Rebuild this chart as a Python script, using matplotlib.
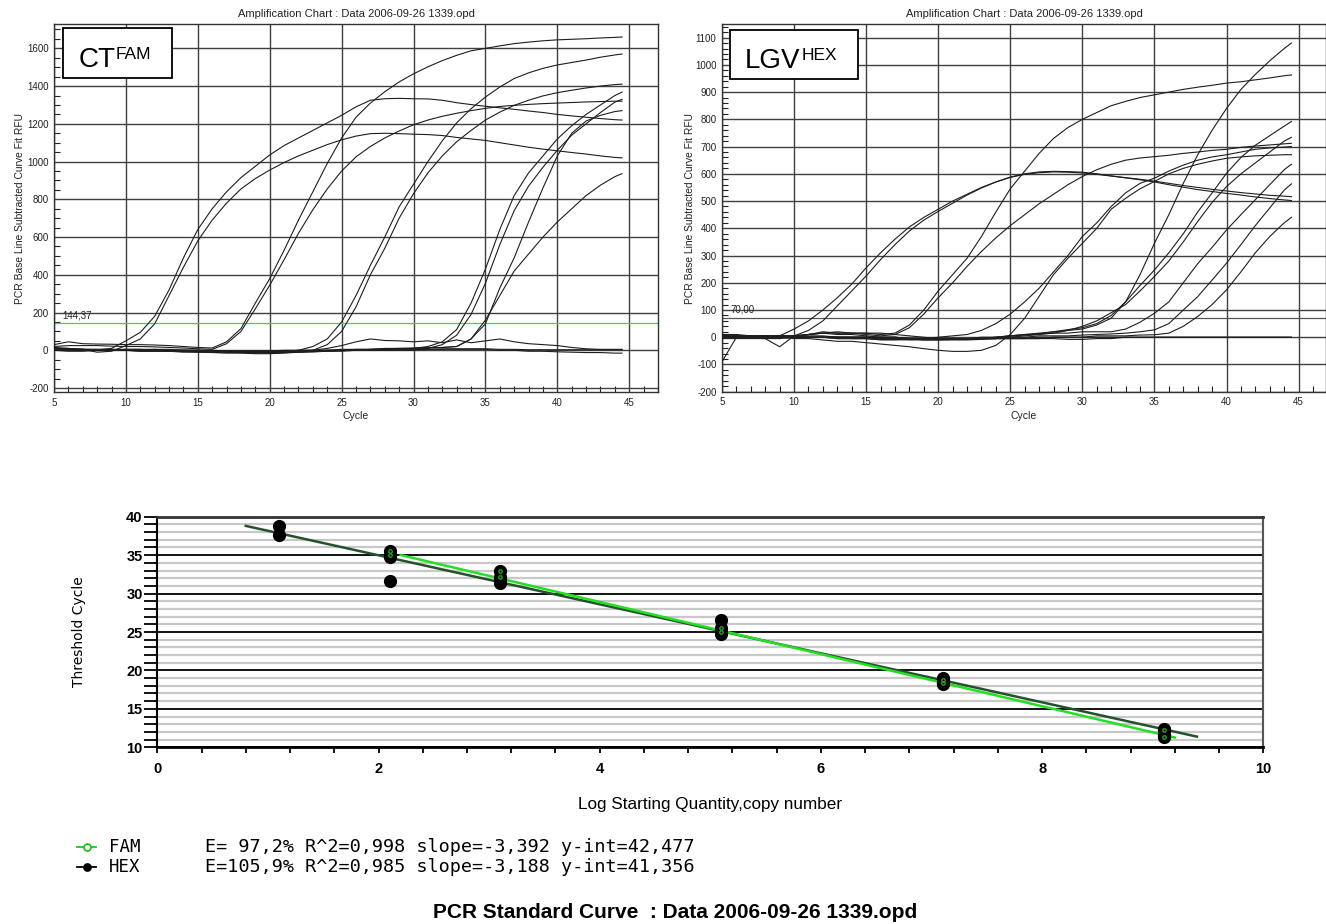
import matplotlib
matplotlib.use('Agg')
import matplotlib.pyplot as plt
from matplotlib.ticker import MultipleLocator
from matplotlib.patches import Rectangle
from matplotlib.lines import Line2D

plt.rcParams['font.family'] = ['Liberation Sans', 'DejaVu Sans']
plt.rcParams['axes.unicode_minus'] = False

# ---- amplification data (RFU per cycle) ----
cycles = list(range(5, 45)) + [44.5]

fam_curves = [
    [10, 8, 5, 3, 10, 50, 95, 180, 320, 490,
     640, 750, 840, 915, 975, 1035, 1085, 1125, 1165, 1205,
     1245, 1290, 1325, 1333, 1335, 1333, 1332, 1325, 1312, 1302,
     1293, 1285, 1277, 1268, 1260, 1250, 1242, 1235, 1228, 1222, 1220],
    [15, 10, 5, -10, -5, 25, 60, 140, 290, 440,
     580, 690, 780, 855, 910, 955, 995, 1030, 1060, 1090,
     1115, 1135, 1148, 1150, 1148, 1145, 1143, 1138, 1128, 1120,
     1112, 1100, 1088, 1076, 1066, 1057, 1048, 1040, 1030, 1022, 1020],
    [30, 45, 35, 33, 32, 30, 30, 28, 25, 20,
     15, 12, 45, 115, 250, 380, 530, 690, 840, 990,
     1125, 1235, 1310, 1370, 1422, 1465, 1502, 1535, 1563, 1587,
     1600, 1613, 1625, 1633, 1640, 1645, 1648, 1651, 1655, 1658, 1660],
    [20, 25, 25, 25, 22, 20, 20, 18, 15, 12,
     8, 5, 35, 100, 220, 345, 480, 620, 745, 855,
     950, 1025, 1080, 1125, 1162, 1195, 1220, 1240, 1256, 1270,
     1282, 1292, 1298, 1303, 1307, 1310, 1313, 1316, 1318, 1320, 1320],
    [5, 0, 0, 0, 5, 5, 0, 0, -5, -5,
     -5, -10, -10, -12, -15, -15, -12, 0, 20, 60,
     150, 290, 450, 600, 760, 880, 1000, 1110, 1205, 1280,
     1342, 1395, 1440, 1470, 1494, 1512, 1525, 1538, 1553, 1565, 1570],
    [0, 5, 5, 0, 0, 0, -5, -5, -5, -10,
     -10, -12, -15, -15, -18, -18, -15, -10, 0, 30,
     100, 230, 400, 540, 700, 830, 940, 1030, 1105, 1165,
     1220, 1262, 1298, 1325, 1348, 1365, 1378, 1390, 1400, 1408, 1410],
    [0, 0, 5, 5, 0, 0, 0, 5, 5, 0,
     -5, -5, -8, -10, -10, -12, -12, -10, -8, -5,
     0, 0, 5, 5, 8, 10, 20, 45, 110, 250,
     430, 640, 820, 940, 1030, 1120, 1190, 1250, 1300, 1350, 1368],
    [5, 5, 0, 0, 0, 5, 5, 0, 0, 0,
     0, -5, -5, -8, -8, -10, -10, -8, -5, -5,
     0, 0, 0, 5, 5, 8, 10, 30, 80, 190,
     355, 560, 740, 870, 970, 1060, 1140, 1200, 1260, 1315, 1330],
    [0, -5, -5, 0, 0, 0, 0, 0, -5, -5,
     -5, -10, -10, -12, -10, -10, -8, -5, -5, 0,
     0, 5, 5, 8, 10, 10, 12, 15, 20, 60,
     140, 330, 490, 680, 860, 1030, 1150, 1215, 1245, 1265, 1270],
    [10, 10, 5, 5, 5, 0, 0, 0, 0, -5,
     -5, -5, -5, -8, -8, -8, -5, -5, 0, 0,
     5, 5, 5, 10, 10, 12, 15, 15, 20, 60,
     160, 290, 420, 510, 600, 680, 750, 820, 875, 920, 936],
    [5, 5, 0, 0, 0, 5, 5, 5, 0, 0,
     0, -5, -5, -5, -5, -5, -5, 0, 0, 10,
     25, 45, 60, 52, 50, 45, 50, 40, 55, 40,
     50, 60, 45, 35, 30, 25, 15, 8, 5, 5, 5],
    [10, 5, 5, 0, 0, 0, -5, -5, -5, -5,
     -10, -10, -10, -12, -12, -10, -10, -10, -8, -5,
     -5, 0, 0, 0, 0, 0, 5, 5, 5, 5,
     5, 0, 0, -5, -5, -8, -10, -12, -12, -15, -15],
    [0, 0, 0, 0, 0, 0, 0, 0, 0, 0,
     0, 0, -3, -3, -3, -3, 0, 0, 0, 0,
     0, 3, 3, 3, 5, 5, 5, 8, 8, 8,
     8, 5, 5, 3, 3, 3, 3, 3, 3, 3, 3],
]

hex_curves = [
    [0, 5, 5, 0, 5, 30, 60, 100, 145, 195,
     255, 310, 360, 405, 440, 470, 500, 525, 550, 570,
     587, 598, 604, 607, 606, 603, 598, 592, 586, 580,
     573, 565, 557, 550, 543, 537, 531, 526, 521, 518, 516],
    [5, 0, 0, 5, 0, 5, 25, 60, 115, 170,
     225, 285, 340, 390, 430, 462, 492, 522, 548, 570,
     588, 600, 607, 609, 608, 606, 600, 592, 585, 578,
     570, 560, 551, 542, 535, 528, 522, 515, 509, 504, 502],
    [5, 5, 0, 0, 5, 5, 10, 15, 20, 15,
     15, 10, 15, 45, 100, 170, 230, 290, 370, 460,
     545, 610, 675, 730, 770, 800, 825, 850, 866, 880,
     890, 900, 910, 918, 925, 933, 938, 945, 952, 960, 963],
    [0, 0, 5, 5, 0, 0, 10, 20, 15, 15,
     10, 5, 10, 35, 85, 145, 200, 260, 315, 365,
     410, 450, 490, 525, 560, 590, 615, 635, 650, 658,
     663, 668, 675, 680, 686, 690, 697, 702, 706, 710, 712],
    [0, 0, 0, 5, 5, 0, 0, 0, -5, -5,
     -5, -10, -10, -8, -5, 0, 5, 10, 25, 50,
     85, 130, 180, 240, 300, 370, 420, 480, 530, 565,
     584, 610, 632, 650, 662, 670, 680, 690, 695, 698, 700],
    [5, 5, 0, 0, 0, -5, -5, -10, -15, -15,
     -20, -25, -30, -35, -42, -48, -52, -52, -48, -30,
     10, 70, 150, 230, 290, 345, 400, 470, 510, 545,
     572, 600, 620, 635, 647, 657, 662, 666, 668, 670, 670],
    [5, 5, 0, 0, 0, 5, 5, 5, 0, 0,
     0, -5, -5, -5, -8, -8, -8, -5, -5, 0,
     5, 10, 15, 20, 25, 30, 45, 70, 130, 230,
     345, 450, 565, 670, 760, 840, 910, 965, 1015, 1060, 1080],
    [0, 0, 0, 0, 5, 5, 0, 0, 0, -5,
     -5, -5, -5, -8, -8, -8, -5, -5, 0, 0,
     5, 8, 12, 20, 28, 35, 50, 80, 130, 190,
     247, 310, 380, 460, 530, 602, 660, 705, 740, 775, 792],
    [0, 5, 5, 0, 0, 0, 0, 0, -5, -5,
     -5, -8, -8, -10, -10, -10, -8, -8, -5, -5,
     0, 5, 10, 15, 25, 40, 60, 90, 120, 170,
     223, 280, 350, 425, 495, 553, 600, 640, 680, 720, 734],
    [10, 10, 5, 5, 5, 5, 10, 15, 15, 15,
     15, 15, 10, 5, 0, -5, -5, -5, -5, 0,
     5, 10, 12, 15, 15, 20, 20, 20, 30, 55,
     88, 130, 200, 270, 330, 394, 450, 505, 560, 615, 635],
    [0, 0, 0, 0, 0, 0, 0, 0, 0, 0,
     0, 0, 0, -5, -5, -5, -5, -5, -5, -5,
     0, 0, 5, 5, 5, 8, 10, 12, 15, 20,
     27, 50, 100, 149, 210, 272, 340, 410, 475, 540, 563],
    [0, 0, 0, -5, -5, 0, 0, 0, 0, 0,
     0, -5, -5, -5, -8, -8, -8, -8, -5, -5,
     -5, -5, 0, 0, 0, 0, 5, 5, 5, 8,
     9, 15, 40, 76, 120, 174, 240, 310, 370, 420, 440],
    [-90, 0, 5, 5, 5, 0, 0, 0, 0, 0,
     0, 0, 0, -5, -5, -5, -5, -5, -5, -5,
     -5, -5, -5, 0, 0, 0, 0, 0, 0, 0,
     0, 0, 0, 0, 0, 0, 0, 0, 0, 0, 0],
    [-5, -5, -5, -5, -35, 5, 10, 15, 10, 10,
     5, 0, 0, -5, -10, -10, -10, -10, -8, -5,
     -5, -5, -5, -5, -8, -8, -5, -5, 0, 0,
     0, 0, 0, 0, 0, 0, 0, 0, 0, 0, 0],
]

fam_threshold = 144.37
hex_threshold = 70.00

# ---- standard curve data ----
fam_log_qty = [2.1, 2.1, 3.1, 3.1, 5.1, 5.1, 7.1, 7.1, 9.1, 9.1]
fam_ct = [35.6, 35.0, 32.9, 32.1, 25.5, 25.0, 18.8, 18.4, 12.2, 11.3]
hex_log_qty = [1.1, 1.1, 2.1, 2.1, 3.1, 3.1, 5.1, 5.1, 7.1, 7.1, 9.1, 9.1]
hex_ct = [38.8, 37.6, 34.8, 31.6, 31.4, 31.8, 26.6, 24.8, 19.0, 18.2, 12.4, 11.6]

fam_eff, fam_r2, fam_slope, fam_yint = 97.2, 0.998, -3.392, 42.477
hex_eff, hex_r2, hex_slope, hex_yint = 105.9, 0.985, -3.188, 41.356
fam_fit_x = [2.2, 9.2]
hex_fit_x = [0.8, 9.4]

W, H = 1326, 924
fig = plt.figure(figsize=(W / 100, H / 100), dpi=100)
fig.patch.set_facecolor('white')

chart_title = 'Amplification Chart : Data 2006-09-26 1339.opd'
rfu_label = 'PCR Base Line Subtracted Curve Fit RFU'


def amp_panel(rect, curves, ylim, xmax, ymajor, yminor, thr, thr_color,
              thr_text, thr_text_y, box, tag, sup):
    ax = fig.add_axes(rect)
    for vals in curves:
        ax.plot(cycles, vals, color='#1e1e1e', lw=0.8, zorder=3)
    ax.axhline(thr, color=thr_color, lw=0.9, zorder=2)
    ax.text(5.6, thr_text_y, thr_text, fontsize=7, color='#222',
            va='bottom', zorder=4)
    ax.set_xlim(5, xmax)
    ax.set_ylim(*ylim)
    ax.xaxis.set_major_locator(MultipleLocator(5))
    ax.xaxis.set_minor_locator(MultipleLocator(1))
    ax.yaxis.set_major_locator(MultipleLocator(ymajor))
    ax.yaxis.set_minor_locator(MultipleLocator(yminor))
    ax.grid(which='major', color='#404040', lw=1.0, zorder=1)
    ax.tick_params(which='both', direction='in', labelsize=7,
                   colors='#222', pad=4)
    ax.tick_params(which='major', length=0)
    ax.tick_params(which='minor', length=4, width=0.8)
    for s in ax.spines.values():
        s.set_color('#333')
        s.set_linewidth(1.0)
    # label box
    ax.add_patch(Rectangle((box[0], box[1]), box[2], box[3],
                           transform=ax.transAxes, facecolor='white',
                           edgecolor='black', lw=1.3, zorder=6))
    t = ax.text(box[0] + 0.025, box[1] + 0.03, tag, transform=ax.transAxes,
                fontsize=20, va='baseline', ha='left', zorder=7)
    ax.annotate(sup, xy=(1, 1), xycoords=t, xytext=(0.5, 0),
                textcoords='offset points', fontsize=12.5, va='top',
                ha='left', zorder=7)
    return ax


ax1 = amp_panel([54 / W, 1 - 392 / H, 604 / W, 368 / H], fam_curves,
                (-221, 1729), 47, 200, 50, fam_threshold, '#2ee62e',
                '144,37', fam_threshold + 12,
                (0.015, 0.854, 0.18, 0.135), 'CT', 'FAM')
ax2 = amp_panel([722 / W, 1 - 391.7 / H, 604 / W, 367.7 / H], hex_curves,
                (-200, 1150), 46.9, 100, 20, hex_threshold, '#555555',
                '70,00', hex_threshold + 12,
                (0.0133, 0.85, 0.2126, 0.135), 'LGV', 'HEX')

for cx, lx in ((356, 20), (1024, 690)):
    fig.text(cx / W, 1 - 14 / H, chart_title, fontsize=8, ha='center',
             va='center', color='#222')
    fig.text(cx / W, 1 - 416 / H, 'Cycle', fontsize=7.5, ha='center',
             va='center', color='#222')
    fig.text(lx / W, 1 - 208 / H, rfu_label, fontsize=7.4, rotation=90,
             ha='center', va='center', color='#222')

# ---- standard curve ----
ax3 = fig.add_axes([157.3 / W, 1 - 747.3 / H, 1106 / W, 230.6 / H])
ax3.set_xlim(0, 10)
ax3.set_ylim(10, 40)
ax3.xaxis.set_major_locator(MultipleLocator(2))
ax3.xaxis.set_minor_locator(MultipleLocator(0.4))
ax3.yaxis.set_major_locator(MultipleLocator(5))
ax3.yaxis.set_minor_locator(MultipleLocator(1))
ax3.grid(which='minor', axis='y', color='#c8c8c8', lw=1.6, zorder=0)
ax3.grid(which='major', axis='y', color='black', lw=1.3, zorder=1)
ax3.tick_params(axis='y', which='both', direction='out', length=9.5,
                width=1.3, pad=1, labelsize=10.5)
ax3.tick_params(axis='x', which='both', direction='out', length=4.5,
                width=1.3, pad=6, labelsize=10.5)
for lab in ax3.get_xticklabels() + ax3.get_yticklabels():
    lab.set_fontweight('bold')
ax3.spines['top'].set_linewidth(2)
ax3.spines['top'].set_color('#333')
ax3.spines['bottom'].set_linewidth(2)
ax3.spines['left'].set_linewidth(1.5)
ax3.spines['right'].set_linewidth(1.5)
ax3.spines['right'].set_color('#555')

hex_fit_y = [hex_slope * x + hex_yint for x in hex_fit_x]
fam_fit_y = [fam_slope * x + fam_yint for x in fam_fit_x]
ax3.plot(hex_fit_x, hex_fit_y, color='#24522a', lw=1.8, zorder=3)
ax3.plot(fam_fit_x, fam_fit_y, color='#22e022', lw=1.8, zorder=4)
ax3.plot(hex_log_qty, hex_ct, 'o', color='black', ms=8.5, ls='none', zorder=5)
ax3.plot(fam_log_qty, fam_ct, 'o', color='black', ms=8.5, ls='none', zorder=5)
ax3.plot(fam_log_qty, fam_ct, 'o', mfc='none', mec='#22b022', ms=2.5,
         mew=0.9, ls='none', zorder=6)

fig.text(78.75 / W, 1 - 632 / H, 'Threshold Cycle', rotation=90, ha='center',
         va='center', fontsize=10, family='DejaVu Sans')
fig.text(710 / W, 1 - 805 / H, 'Log Starting Quantity,copy number',
         ha='center', va='center', fontsize=12.3)

# legend rows
mono = 'DejaVu Sans Mono'
rows = [
    ('FAM', '#22c022', 'white', 847,
     f"E={fam_eff:5.1f}% R^2={fam_r2:.3f} slope={fam_slope:.3f} y-int={fam_yint:.3f}"),
    ('HEX', 'black', 'black', 867,
     f"E={hex_eff:5.1f}% R^2={hex_r2:.3f} slope={hex_slope:.3f} y-int={hex_yint:.3f}"),
]
for name, col, face, yy, stats in rows:
    fy = 1 - yy / H
    fig.add_artist(Line2D([77 / W, 96 / W], [fy, fy], color=col, lw=1.3,
                          transform=fig.transFigure))
    fig.add_artist(Line2D([87 / W], [fy], marker='o', ms=5, mfc=face,
                          mec=col, mew=1.3, transform=fig.transFigure))
    fig.text(109 / W, fy, name, fontsize=12.5, family=mono, va='center')
    fig.text(205 / W, fy, stats.replace('.', ','), fontsize=13.3,
             family=mono, va='center')

fig.text(675 / W, 1 - 913 / H, 'PCR Standard Curve  : Data 2006-09-26 1339.opd',
         ha='center', va='center', fontsize=15, fontweight='bold')

fig.savefig('out.png', dpi=100)
